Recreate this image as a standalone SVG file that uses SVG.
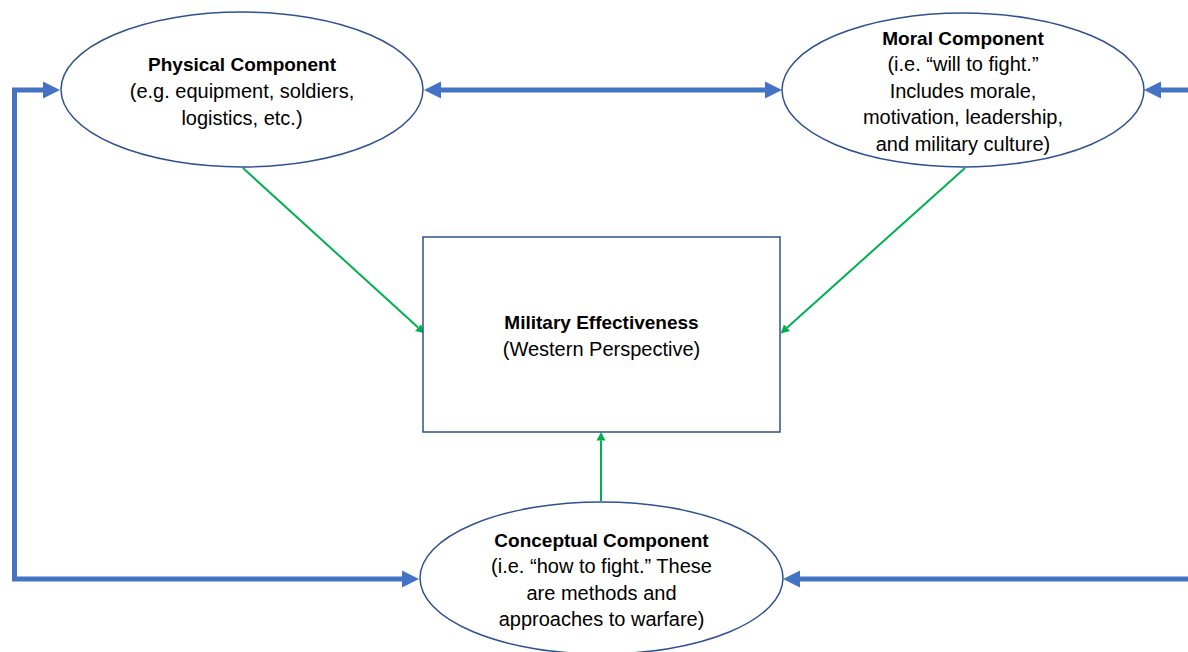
<svg xmlns="http://www.w3.org/2000/svg" width="1188" height="652" viewBox="0 0 1188 652">
  <style>
    .node { fill: #ffffff; stroke: #2F528F; stroke-width: 1.5; }
    .t { font-family: "Liberation Sans", Arial, sans-serif; font-size: 20px; fill: #000000; text-anchor: middle; }
    .b { font-weight: bold; font-size: 19px; }
    .blue { fill: none; stroke: #4472C4; stroke-width: 5; stroke-linejoin: miter; }
    .green { fill: none; stroke: #00B050; stroke-width: 2; }
  </style>
  <defs>
    <marker id="blueHead" markerUnits="userSpaceOnUse" markerWidth="18" markerHeight="18" viewBox="0 -9 18 18" refX="0" refY="0" orient="auto-start-reverse">
      <path d="M0,-8.5 L17,0 L0,8.5 z" fill="#4472C4"/>
    </marker>
    <marker id="greenHead" markerUnits="userSpaceOnUse" markerWidth="9" markerHeight="10" viewBox="0 -5 9 10" refX="0" refY="0" orient="auto">
      <path d="M0,-4.5 L8.5,0 L0,4.5 z" fill="#00B050"/>
    </marker>
  </defs>

  <rect width="1188" height="652" fill="#ffffff"/>

  <!-- connectors -->
  <g id="connectors">
    <!-- outer loop on the left: Physical <-> Conceptual -->
    <path class="blue" d="M43,90 L14.5,90 L14.5,579 L402,579" marker-start="url(#blueHead)" marker-end="url(#blueHead)"/>
    <!-- Physical <-> Moral -->
    <path class="blue" d="M441,90 L765,90" marker-start="url(#blueHead)" marker-end="url(#blueHead)"/>
    <!-- outer loop on the right: Moral <-> Conceptual -->
    <path class="blue" d="M1161,90 L1200,90 L1200,579 L800,579" marker-start="url(#blueHead)" marker-end="url(#blueHead)"/>
    <!-- components feeding effectiveness -->
    <path class="green" d="M243,168 L418.1,327.6" marker-end="url(#greenHead)"/>
    <path class="green" d="M965,168 L787,327.7" marker-end="url(#greenHead)"/>
    <path class="green" d="M601,501 L601,440.5" marker-end="url(#greenHead)"/>
  </g>

  <g id="physical">
    <ellipse class="node" cx="242" cy="89.5" rx="181" ry="77.5"/>
    <text class="t b" x="242" y="71">Physical Component</text>
    <text class="t" x="242" y="98">(e.g. equipment, soldiers,</text>
    <text class="t" x="242" y="125">logistics, etc.)</text>
  </g>

  <g id="moral">
    <ellipse class="node" cx="963" cy="90" rx="181" ry="77"/>
    <text class="t b" x="963" y="45">Moral Component</text>
    <text class="t" x="963" y="71">(i.e. “will to fight.”</text>
    <text class="t" x="963" y="98">Includes morale,</text>
    <text class="t" x="963" y="124">motivation, leadership,</text>
    <text class="t" x="963" y="151">and military culture)</text>
  </g>

  <g id="effectiveness">
    <rect class="node" x="423" y="237" width="357" height="195"/>
    <text class="t b" x="601.5" y="329">Military Effectiveness</text>
    <text class="t" x="601.5" y="356">(Western Perspective)</text>
  </g>

  <g id="conceptual">
    <ellipse class="node" cx="601.5" cy="578" rx="181.5" ry="76"/>
    <text class="t b" x="601.5" y="547">Conceptual Component</text>
    <text class="t" x="601.5" y="573">(i.e. “how to fight.” These</text>
    <text class="t" x="601.5" y="600">are methods and</text>
    <text class="t" x="601.5" y="626">approaches to warfare)</text>
  </g>
</svg>
